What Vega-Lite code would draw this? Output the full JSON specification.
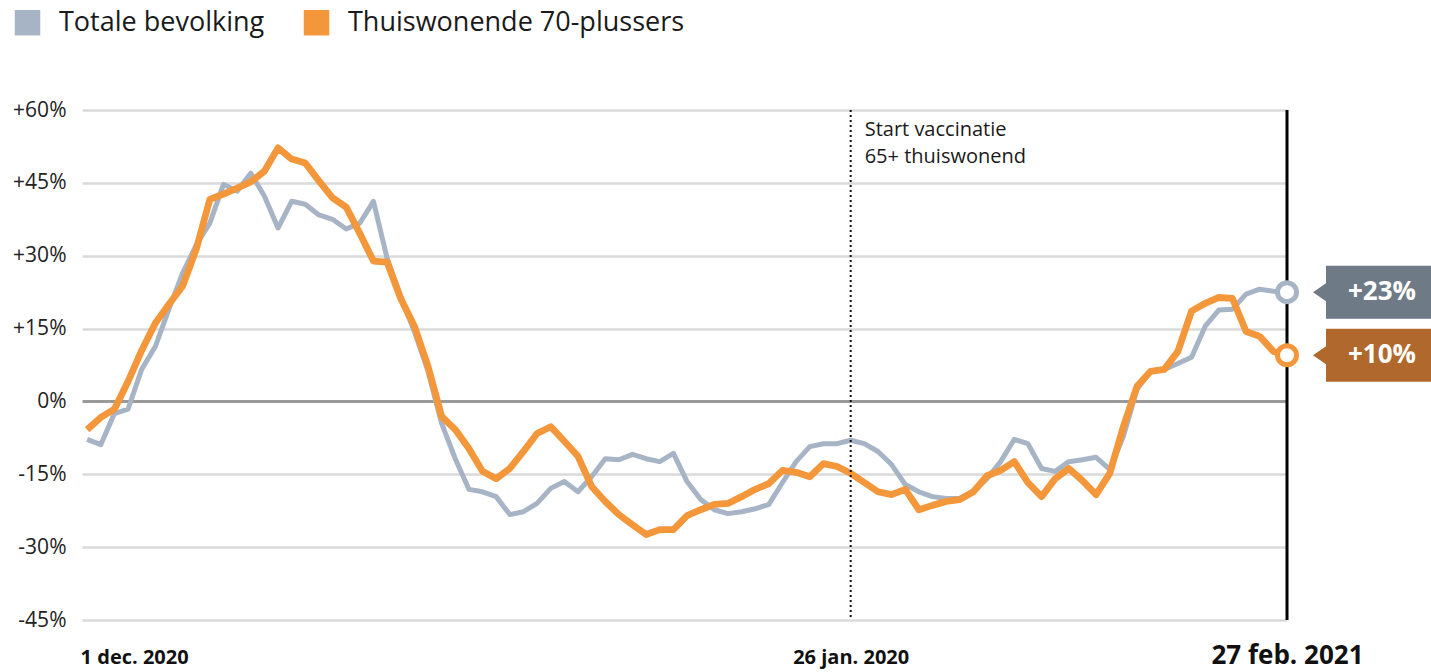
{
  "$schema": "https://vega.github.io/schema/vega-lite/v6.json",
  "width": 1205,
  "height": 510,
  "autosize": {"type": "none"},
  "padding": {"left": 82, "top": 110, "right": 144, "bottom": 52},
  "background": "white",
  "config": {"font": "Open Sans", "view": {"stroke": null}},
  "datasets": {
    "main": [
      {"d": "2020-12-01", "Totale bevolking": -7.8, "Thuiswonende 70-plussers": -5.8},
      {"d": "2020-12-02", "Totale bevolking": -8.9, "Thuiswonende 70-plussers": -3.3},
      {"d": "2020-12-03", "Totale bevolking": -2.5, "Thuiswonende 70-plussers": -1.6},
      {"d": "2020-12-04", "Totale bevolking": -1.6, "Thuiswonende 70-plussers": 4.1},
      {"d": "2020-12-05", "Totale bevolking": 6.6, "Thuiswonende 70-plussers": 10.5},
      {"d": "2020-12-06", "Totale bevolking": 11.3, "Thuiswonende 70-plussers": 16.1},
      {"d": "2020-12-07", "Totale bevolking": 19.0, "Thuiswonende 70-plussers": 20.0},
      {"d": "2020-12-08", "Totale bevolking": 26.4, "Thuiswonende 70-plussers": 23.7},
      {"d": "2020-12-09", "Totale bevolking": 32.2, "Thuiswonende 70-plussers": 31.3},
      {"d": "2020-12-10", "Totale bevolking": 36.7, "Thuiswonende 70-plussers": 41.6},
      {"d": "2020-12-11", "Totale bevolking": 44.7, "Thuiswonende 70-plussers": 42.7},
      {"d": "2020-12-12", "Totale bevolking": 43.3, "Thuiswonende 70-plussers": 43.9},
      {"d": "2020-12-13", "Totale bevolking": 47.0, "Thuiswonende 70-plussers": 45.2},
      {"d": "2020-12-14", "Totale bevolking": 42.3, "Thuiswonende 70-plussers": 47.4},
      {"d": "2020-12-15", "Totale bevolking": 35.7, "Thuiswonende 70-plussers": 52.2},
      {"d": "2020-12-16", "Totale bevolking": 41.2, "Thuiswonende 70-plussers": 49.9},
      {"d": "2020-12-17", "Totale bevolking": 40.6, "Thuiswonende 70-plussers": 49.1},
      {"d": "2020-12-18", "Totale bevolking": 38.4, "Thuiswonende 70-plussers": 45.4},
      {"d": "2020-12-19", "Totale bevolking": 37.5, "Thuiswonende 70-plussers": 41.9},
      {"d": "2020-12-20", "Totale bevolking": 35.5, "Thuiswonende 70-plussers": 40.0},
      {"d": "2020-12-21", "Totale bevolking": 36.7, "Thuiswonende 70-plussers": 34.6},
      {"d": "2020-12-22", "Totale bevolking": 41.2, "Thuiswonende 70-plussers": 28.9},
      {"d": "2020-12-23", "Totale bevolking": 29.5, "Thuiswonende 70-plussers": 28.7},
      {"d": "2020-12-24", "Totale bevolking": 21.6, "Thuiswonende 70-plussers": 21.2},
      {"d": "2020-12-25", "Totale bevolking": 14.4, "Thuiswonende 70-plussers": 15.5},
      {"d": "2020-12-26", "Totale bevolking": 6.2, "Thuiswonende 70-plussers": 7.2},
      {"d": "2020-12-27", "Totale bevolking": -4.5, "Thuiswonende 70-plussers": -3.1},
      {"d": "2020-12-28", "Totale bevolking": -11.8, "Thuiswonende 70-plussers": -5.8},
      {"d": "2020-12-29", "Totale bevolking": -18.1, "Thuiswonende 70-plussers": -9.7},
      {"d": "2020-12-30", "Totale bevolking": -18.6, "Thuiswonende 70-plussers": -14.4},
      {"d": "2020-12-31", "Totale bevolking": -19.6, "Thuiswonende 70-plussers": -15.9},
      {"d": "2021-01-01", "Totale bevolking": -23.3, "Thuiswonende 70-plussers": -13.8},
      {"d": "2021-01-02", "Totale bevolking": -22.7, "Thuiswonende 70-plussers": -10.3},
      {"d": "2021-01-03", "Totale bevolking": -21.0, "Thuiswonende 70-plussers": -6.6},
      {"d": "2021-01-04", "Totale bevolking": -17.9, "Thuiswonende 70-plussers": -5.2},
      {"d": "2021-01-05", "Totale bevolking": -16.5, "Thuiswonende 70-plussers": -8.2},
      {"d": "2021-01-06", "Totale bevolking": -18.6, "Thuiswonende 70-plussers": -11.3},
      {"d": "2021-01-07", "Totale bevolking": -15.5, "Thuiswonende 70-plussers": -17.5},
      {"d": "2021-01-08", "Totale bevolking": -11.8, "Thuiswonende 70-plussers": -20.6},
      {"d": "2021-01-09", "Totale bevolking": -12.0, "Thuiswonende 70-plussers": -23.3},
      {"d": "2021-01-10", "Totale bevolking": -10.9, "Thuiswonende 70-plussers": -25.4},
      {"d": "2021-01-11", "Totale bevolking": -11.8, "Thuiswonende 70-plussers": -27.4},
      {"d": "2021-01-12", "Totale bevolking": -12.4, "Thuiswonende 70-plussers": -26.4},
      {"d": "2021-01-13", "Totale bevolking": -10.7, "Thuiswonende 70-plussers": -26.4},
      {"d": "2021-01-14", "Totale bevolking": -16.5, "Thuiswonende 70-plussers": -23.5},
      {"d": "2021-01-15", "Totale bevolking": -20.2, "Thuiswonende 70-plussers": -22.3},
      {"d": "2021-01-16", "Totale bevolking": -22.3, "Thuiswonende 70-plussers": -21.2},
      {"d": "2021-01-17", "Totale bevolking": -23.1, "Thuiswonende 70-plussers": -21.0},
      {"d": "2021-01-18", "Totale bevolking": -22.7, "Thuiswonende 70-plussers": -19.6},
      {"d": "2021-01-19", "Totale bevolking": -22.1, "Thuiswonende 70-plussers": -18.1},
      {"d": "2021-01-20", "Totale bevolking": -21.2, "Thuiswonende 70-plussers": -16.9},
      {"d": "2021-01-21", "Totale bevolking": -16.7, "Thuiswonende 70-plussers": -14.2},
      {"d": "2021-01-22", "Totale bevolking": -12.4, "Thuiswonende 70-plussers": -14.6},
      {"d": "2021-01-23", "Totale bevolking": -9.3, "Thuiswonende 70-plussers": -15.5},
      {"d": "2021-01-24", "Totale bevolking": -8.7, "Thuiswonende 70-plussers": -12.8},
      {"d": "2021-01-25", "Totale bevolking": -8.7, "Thuiswonende 70-plussers": -13.4},
      {"d": "2021-01-26", "Totale bevolking": -8.0, "Thuiswonende 70-plussers": -14.8},
      {"d": "2021-01-27", "Totale bevolking": -8.7, "Thuiswonende 70-plussers": -16.7},
      {"d": "2021-01-28", "Totale bevolking": -10.3, "Thuiswonende 70-plussers": -18.6},
      {"d": "2021-01-29", "Totale bevolking": -13.0, "Thuiswonende 70-plussers": -19.2},
      {"d": "2021-01-30", "Totale bevolking": -17.1, "Thuiswonende 70-plussers": -18.1},
      {"d": "2021-01-31", "Totale bevolking": -18.6, "Thuiswonende 70-plussers": -22.3},
      {"d": "2021-02-01", "Totale bevolking": -19.6, "Thuiswonende 70-plussers": -21.4},
      {"d": "2021-02-02", "Totale bevolking": -20.0, "Thuiswonende 70-plussers": -20.6},
      {"d": "2021-02-03", "Totale bevolking": -20.0, "Thuiswonende 70-plussers": -20.2},
      {"d": "2021-02-04", "Totale bevolking": -18.6, "Thuiswonende 70-plussers": -18.6},
      {"d": "2021-02-05", "Totale bevolking": -15.9, "Thuiswonende 70-plussers": -15.3},
      {"d": "2021-02-06", "Totale bevolking": -12.4, "Thuiswonende 70-plussers": -14.2},
      {"d": "2021-02-07", "Totale bevolking": -7.8, "Thuiswonende 70-plussers": -12.4},
      {"d": "2021-02-08", "Totale bevolking": -8.7, "Thuiswonende 70-plussers": -16.7},
      {"d": "2021-02-09", "Totale bevolking": -13.8, "Thuiswonende 70-plussers": -19.6},
      {"d": "2021-02-10", "Totale bevolking": -14.4, "Thuiswonende 70-plussers": -15.9},
      {"d": "2021-02-11", "Totale bevolking": -12.4, "Thuiswonende 70-plussers": -13.8},
      {"d": "2021-02-12", "Totale bevolking": -12.0, "Thuiswonende 70-plussers": -16.3},
      {"d": "2021-02-13", "Totale bevolking": -11.5, "Thuiswonende 70-plussers": -19.2},
      {"d": "2021-02-14", "Totale bevolking": -14.0, "Thuiswonende 70-plussers": -14.8},
      {"d": "2021-02-15", "Totale bevolking": -7.2, "Thuiswonende 70-plussers": -5.2},
      {"d": "2021-02-16", "Totale bevolking": 2.5, "Thuiswonende 70-plussers": 3.1},
      {"d": "2021-02-17", "Totale bevolking": 6.2, "Thuiswonende 70-plussers": 6.2},
      {"d": "2021-02-18", "Totale bevolking": 6.6, "Thuiswonende 70-plussers": 6.6},
      {"d": "2021-02-19", "Totale bevolking": 7.8, "Thuiswonende 70-plussers": 10.3},
      {"d": "2021-02-20", "Totale bevolking": 9.1, "Thuiswonende 70-plussers": 18.6},
      {"d": "2021-02-21", "Totale bevolking": 15.5, "Thuiswonende 70-plussers": 20.2},
      {"d": "2021-02-22", "Totale bevolking": 18.8, "Thuiswonende 70-plussers": 21.4},
      {"d": "2021-02-23", "Totale bevolking": 19.0, "Thuiswonende 70-plussers": 21.2},
      {"d": "2021-02-24", "Totale bevolking": 22.1, "Thuiswonende 70-plussers": 14.4},
      {"d": "2021-02-25", "Totale bevolking": 23.1, "Thuiswonende 70-plussers": 13.4},
      {"d": "2021-02-26", "Totale bevolking": 22.7, "Thuiswonende 70-plussers": 10.3},
      {"d": "2021-02-27", "Totale bevolking": 22.5, "Thuiswonende 70-plussers": 9.5}
    ],
    "ends": [
      {"d": "2021-02-27", "series": "Totale bevolking", "v": 22.5, "lab": "+23%"},
      {"d": "2021-02-27", "series": "Thuiswonende 70-plussers", "v": 9.5, "lab": "+10%"}
    ],
    "notes": [
      {"d": "2021-01-26", "kind": "vacc", "t": "Start vaccinatie\n65+ thuiswonend"},
      {"d": "2021-02-27", "kind": "end", "t": ""}
    ]
  },
  "layer": [
    {
      "data": {"name": "main"},
      "transform": [
        {"fold": ["Totale bevolking", "Thuiswonende 70-plussers"], "as": ["series", "v"]},
        {"filter": "datum.series === 'Totale bevolking'"}
      ],
      "mark": {"type": "line", "strokeWidth": 5, "strokeJoin": "round", "clip": false},
      "encoding": {
        "x": {
          "field": "d", "type": "temporal", "title": null,
          "scale": {"type": "utc", "domain": [{"year": 2020, "month": "nov", "date": 30, "hours": 15, "utc": true}, {"year": 2021, "month": "feb", "date": 27, "utc": true}]},
          "axis": {
            "values": [{"year": 2020, "month": "dec", "date": 1, "utc": true}, {"year": 2021, "month": "jan", "date": 26, "utc": true}, {"year": 2021, "month": "feb", "date": 27, "utc": true}],
            "labelExpr": "utcmonth(datum.value) == 11 ? '1 dec. 2020' : (utcmonth(datum.value) == 0 ? '26 jan. 2020' : '27 feb. 2021')",
            "domain": false, "ticks": false, "tickSize": 0, "grid": false,
            "labelPadding": 43, "labelBaseline": "alphabetic",
            "labelFont": "Open Sans",
            "labelFontWeight": "bold", "labelColor": "#111", "labelLimit": 500,
            "labelFontSize": {"condition": {"test": "utcmonth(datum.value) == 1", "value": 26}, "value": 20},
            "labelAlign": {"condition": {"test": "utcmonth(datum.value) == 11", "value": "left"}, "value": "center"},
            "labelOffset": {"condition": {"test": "utcmonth(datum.value) == 11", "value": -7}, "value": 0},
            "labelOverlap": false, "labelFlush": false, "labelBound": false
          }
        },
        "y": {
          "field": "v", "type": "quantitative", "title": null,
          "scale": {"domain": [-45, 60], "nice": false, "zero": false},
          "axis": {
            "values": [-45, -30, -15, 0, 15, 30, 45, 60],
            "labelExpr": "datum.value > 0 ? '+' + datum.value + '%' : datum.value + '%'",
            "domain": false, "ticks": false, "tickSize": 0, "labelPadding": 16,
            "labelFontSize": 21, "labelColor": "#222", "labelFont": "Open Sans",
            "gridColor": {"condition": {"test": "datum.value === 0", "value": "#9a9a9a"}, "value": "#dadada"},
            "gridWidth": {"condition": {"test": "datum.value === 0", "value": 3}, "value": 2.5}
          }
        },
        "color": {
          "field": "series", "type": "nominal",
          "scale": {"domain": ["Totale bevolking", "Thuiswonende 70-plussers"], "range": ["#a6b4c5", "#f4963a"]},
          "legend": {
            "orient": "none", "legendX": -68, "legendY": -101, "direction": "horizontal",
            "title": null, "symbolType": "square", "symbolSize": 650, "symbolStrokeWidth": 0,
            "labelFontSize": 27, "labelFont": "Open Sans", "labelColor": "#1a1a1a",
            "labelOffset": 18, "columnPadding": 38, "padding": 0, "labelLimit": 500,
            "encode": {"symbols": {"update": {"fill": {"scale": "color", "field": "value"}, "opacity": {"value": 1}, "strokeWidth": {"value": 0}}}}
          }
        }
      }
    },
    {
      "data": {"name": "main"},
      "transform": [
        {"fold": ["Totale bevolking", "Thuiswonende 70-plussers"], "as": ["series", "v"]},
        {"filter": "datum.series === 'Thuiswonende 70-plussers'"}
      ],
      "mark": {"type": "line", "strokeWidth": 6.8, "strokeJoin": "round", "clip": false},
      "encoding": {
        "x": {"field": "d", "type": "temporal"},
        "y": {"field": "v", "type": "quantitative"},
        "color": {"field": "series", "type": "nominal"}
      }
    },
    {
      "data": {"name": "notes"},
      "transform": [{"filter": "datum.kind === 'vacc'"}],
      "mark": {"type": "rule", "strokeDash": [2, 3], "strokeWidth": 2, "color": "#111"},
      "encoding": {"x": {"field": "d", "type": "temporal"}}
    },
    {
      "data": {"name": "notes"},
      "transform": [{"filter": "datum.kind === 'vacc'"}],
      "mark": {"type": "text", "align": "left", "baseline": "top", "dx": 14, "dy": 10, "fontSize": 20, "lineHeight": 27, "lineBreak": "\n", "color": "#1a1a1a", "font": "Open Sans"},
      "encoding": {"x": {"field": "d", "type": "temporal"}, "y": {"datum": 60}, "text": {"field": "t"}}
    },
    {
      "data": {"name": "notes"},
      "transform": [{"filter": "datum.kind === 'end'"}],
      "mark": {"type": "rule", "strokeWidth": 3, "color": "#000"},
      "encoding": {"x": {"field": "d", "type": "temporal"}}
    },
    {
      "data": {"name": "ends"},
      "mark": {"type": "point", "shape": "M0.52,0L0.78,-0.18L0.78,-0.53L2.9,-0.53L2.9,0.53L0.78,0.53L0.78,0.18Z", "size": 10000, "filled": true, "opacity": 1, "strokeWidth": 0, "clip": false},
      "encoding": {
        "x": {"field": "d", "type": "temporal"},
        "y": {"field": "v", "type": "quantitative"},
        "fill": {"condition": {"test": "datum.series === 'Totale bevolking'", "value": "#6e7b87"}, "value": "#b0682c"}
      }
    },
    {
      "data": {"name": "ends"},
      "mark": {"type": "point", "shape": "circle", "size": 360, "filled": false, "fill": "white", "strokeWidth": 5, "opacity": 1, "clip": false},
      "encoding": {
        "x": {"field": "d", "type": "temporal"},
        "y": {"field": "v", "type": "quantitative"},
        "color": {"field": "series", "type": "nominal"}
      }
    },
    {
      "data": {"name": "ends"},
      "mark": {"type": "text", "dx": 95, "align": "center", "baseline": "middle", "fontSize": 26, "fontWeight": "bold", "color": "white", "font": "Open Sans"},
      "encoding": {
        "x": {"field": "d", "type": "temporal"},
        "y": {"field": "v", "type": "quantitative"},
        "text": {"field": "lab"}
      }
    }
  ]
}
